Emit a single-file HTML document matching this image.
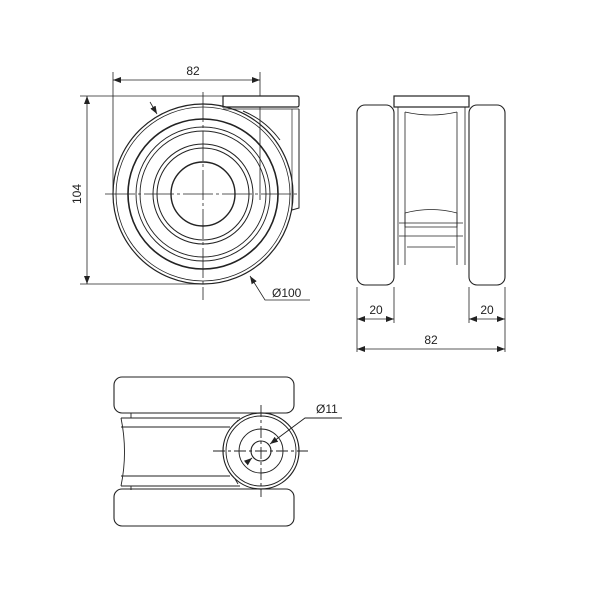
<!DOCTYPE html>
<html><head><style>body{margin:0;background:#fff}svg{display:block}</style></head>
<body>
<svg width="600" height="600" viewBox="0 0 600 600" xmlns="http://www.w3.org/2000/svg" font-family="Liberation Sans, sans-serif" font-size="12" fill="none" stroke="#222">
<defs><marker id="a" markerWidth="8" markerHeight="6" refX="8" refY="3" orient="auto-start-reverse" markerUnits="userSpaceOnUse"><path d="M0,0L8,3L0,6z" fill="#222" stroke="none"/></marker></defs>
<!-- Front view -->
<g stroke-width="0.8">
<line x1="113" y1="72" x2="113" y2="196"/><line x1="260" y1="72" x2="260" y2="200"/>
<line x1="113" y1="80" x2="260" y2="80" marker-start="url(#a)" marker-end="url(#a)"/>
<line x1="80" y1="96" x2="230" y2="96"/><line x1="80" y1="284" x2="205" y2="284"/>
<line x1="87" y1="96" x2="87" y2="284" marker-start="url(#a)" marker-end="url(#a)"/>
<line x1="203" y1="92" x2="203" y2="300" stroke-dasharray="30,3,3,3"/>
<line x1="105" y1="194" x2="300" y2="194" stroke-dasharray="30,3,3,3"/>
<line x1="150" y1="102" x2="157" y2="114" marker-end="url(#a)"/>
<polyline points="250,276 265,300 310,300" marker-start="url(#a)"/>
</g>
<text x="193" y="75" fill="#222" stroke="none" text-anchor="middle">82</text>
<text transform="translate(81,194) rotate(-90)" fill="#222" stroke="none" text-anchor="middle">104</text>
<text x="272" y="297" fill="#222" stroke="none">Ø100</text>
<path d="M223,96 h74 q2,0 2,2 v7 q0,2 -2,2 h-74 z" stroke-width="1.2" fill="#fff"/>
<line x1="223" y1="109" x2="299" y2="109" stroke-width="0.8"/>
<polyline points="299,109 299,208 292,210" stroke-width="1"/>
<line x1="292" y1="109" x2="292" y2="210" stroke-width="0.7"/>
<path d="M243,111 Q265,120 280,140" stroke-width="1"/>
<g>
<circle cx="203" cy="194" r="90" stroke-width="1.2" fill="none"/>
<circle cx="203" cy="194" r="87" stroke-width="0.8"/>
<circle cx="203" cy="194" r="75" stroke-width="1.6"/>
<circle cx="203" cy="194" r="67" stroke-width="0.9"/>
<circle cx="203" cy="194" r="63" stroke-width="0.9"/>
<circle cx="203" cy="194" r="50" stroke-width="1"/>
<circle cx="203" cy="194" r="46" stroke-width="1"/>
<circle cx="203" cy="194" r="32" stroke-width="1.4"/>
</g>
<!-- Side view -->
<rect x="357" y="105" width="37" height="180" rx="8" stroke-width="1.1"/>
<rect x="469" y="105" width="36" height="180" rx="8" stroke-width="1.1"/>
<rect x="394" y="96" width="75" height="11" stroke-width="1.2"/>
<g stroke-width="0.8">
<line x1="398" y1="107" x2="398" y2="265"/><line x1="405" y1="112" x2="405" y2="265"/>
<line x1="465" y1="107" x2="465" y2="265"/><line x1="457" y1="112" x2="457" y2="265"/>
<path d="M405,112 Q431,118 457,112"/>
<path d="M405,213 Q431,206 457,213 V227 H405 Z"/>
<line x1="399" y1="223" x2="463" y2="223"/><line x1="399" y1="236" x2="463" y2="236"/>
<line x1="407" y1="247" x2="455" y2="247"/>
<line x1="357" y1="287" x2="357" y2="352"/><line x1="394" y1="287" x2="394" y2="323"/>
<line x1="469" y1="287" x2="469" y2="323"/><line x1="505" y1="287" x2="505" y2="352"/>
<line x1="357" y1="319" x2="394" y2="319" marker-start="url(#a)" marker-end="url(#a)"/>
<line x1="469" y1="319" x2="505" y2="319" marker-start="url(#a)" marker-end="url(#a)"/>
<line x1="357" y1="349" x2="505" y2="349" marker-start="url(#a)" marker-end="url(#a)"/>
</g>
<text x="376" y="314" fill="#222" stroke="none" text-anchor="middle">20</text>
<text x="487" y="314" fill="#222" stroke="none" text-anchor="middle">20</text>
<text x="431" y="344" fill="#222" stroke="none" text-anchor="middle">82</text>
<!-- Bottom view -->
<rect x="114" y="377" width="180" height="36" rx="8" stroke-width="1.1"/>
<rect x="114" y="489" width="180" height="37" rx="8" stroke-width="1.1"/>
<g stroke-width="0.9">
<line x1="131" y1="413" x2="131" y2="418"/><line x1="131" y1="486" x2="131" y2="490"/>
<line x1="121" y1="418" x2="240" y2="418"/><line x1="121" y1="427" x2="230" y2="427"/>
<line x1="121" y1="476" x2="230" y2="476"/><line x1="121" y1="486" x2="240" y2="486"/>
<path d="M121,418 Q128,452 121,486"/>
<path d="M238,420 Q218,452 238,484"/>
<circle cx="261" cy="451" r="38" stroke-width="1.2" fill="#fff"/>
<circle cx="261" cy="451" r="35"/>
<circle cx="261" cy="451" r="22"/>
<circle cx="261" cy="451" r="10" stroke-width="1.1"/>
<line x1="261" y1="405" x2="261" y2="497" stroke-dasharray="12,3,3,3"/>
<line x1="213" y1="451" x2="308" y2="451" stroke-dasharray="12,3,3,3"/>
<line x1="246" y1="463" x2="252" y2="458" marker-end="url(#a)"/>
<polyline points="342,418 305,418 270,444" marker-end="url(#a)"/>
</g>
<text x="316" y="413" fill="#222" stroke="none">Ø11</text>
</svg>
</body></html>
